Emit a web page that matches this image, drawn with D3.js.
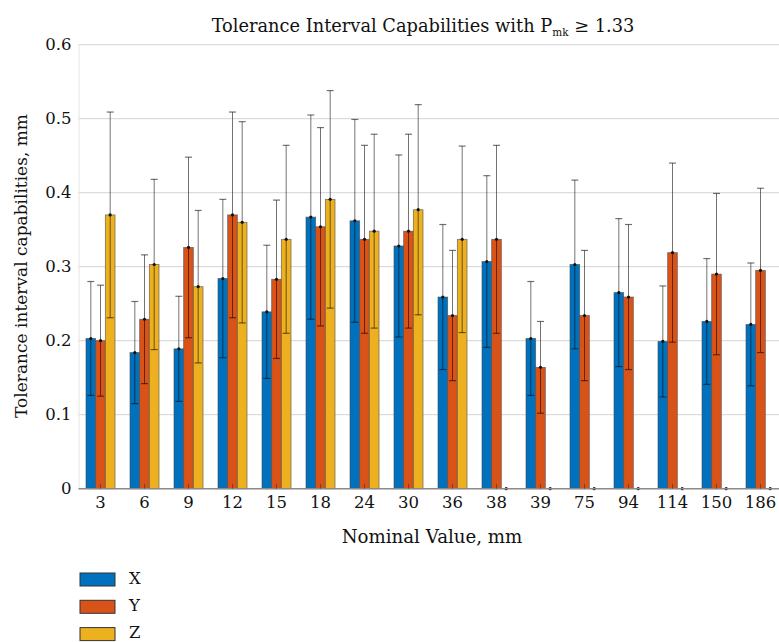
<!DOCTYPE html>
<html>
<head>
<meta charset="utf-8">
<script src="https://cdn.jsdelivr.net/npm/d3@7"></script>
<style>
  html, body { margin: 0; padding: 0; background: #fff; }
  svg { display: block; }
  svg text { font-family: "DejaVu Serif", "Liberation Serif", serif; fill: #111; }
</style>
</head>
<body>
<svg id="chart" width="779" height="642"></svg>
<script>
// Nominal sizes (mm) on the category axis
const categories = ["3", "6", "9", "12", "15", "18", "24", "30", "36", "38", "39", "75", "94", "114", "150", "186"];
const seriesNames = ["X", "Y", "Z"];

// Tolerance interval capability per axis (mm)
const valuesX = [0.203, 0.184, 0.189, 0.284, 0.239, 0.367, 0.362, 0.328, 0.259, 0.307, 0.203, 0.303, 0.265, 0.199, 0.226, 0.222];
const valuesY = [0.200, 0.229, 0.326, 0.370, 0.283, 0.354, 0.337, 0.348, 0.234, 0.337, 0.164, 0.234, 0.259, 0.319, 0.290, 0.295];
const valuesZ = [0.370, 0.303, 0.273, 0.360, 0.337, 0.391, 0.348, 0.377, 0.337, 0, 0, 0, 0, 0, 0, 0];

// Half-width of the error bar for each value (mm)
const errorX = [0.077, 0.069, 0.071, 0.107, 0.090, 0.138, 0.137, 0.123, 0.098, 0.116, 0.077, 0.114, 0.100, 0.075, 0.085, 0.083];
const errorY = [0.075, 0.087, 0.122, 0.139, 0.107, 0.134, 0.127, 0.131, 0.088, 0.127, 0.062, 0.088, 0.098, 0.121, 0.109, 0.111];
const errorZ = [0.139, 0.115, 0.103, 0.136, 0.127, 0.147, 0.131, 0.142, 0.126, 0, 0, 0, 0, 0, 0, 0];

const yTicks = [0, 0.1, 0.2, 0.3, 0.4, 0.5, 0.6];
const colors = ["#0072BD", "#D95319", "#EDB120"];

const values = [valuesX, valuesY, valuesZ];
const errors = [errorX, errorY, errorZ];

const svg = d3.select("#chart");
const plot = { left: 78.5, top: 44.7, bottom: 488.7 };
const step = 44;

const x = d3.scaleBand()
  .domain(categories)
  .range([plot.left, plot.left + step * categories.length])
  .paddingInner(0.34)
  .paddingOuter(0.17);

const xSub = d3.scaleBand()
  .domain(seriesNames)
  .range([0, x.bandwidth()]);

const y = d3.scaleLinear().domain([0, 0.6]).range([plot.bottom, plot.top]);

// Grid lines
const gridRight = 779;
svg.append("g")
  .selectAll("line")
  .data(yTicks.filter(d => d > 0))
  .join("line")
  .attr("x1", plot.left).attr("x2", gridRight)
  .attr("y1", d => y(d)).attr("y2", d => y(d))
  .attr("stroke", "#d4d4d4").attr("stroke-width", 1);

// Y axis
const yAxis = svg.append("g")
  .attr("transform", `translate(${plot.left},0)`)
  .call(d3.axisLeft(y).tickValues(yTicks).tickFormat(d => d === 0 ? "0" : d3.format(".1f")(d)).tickSize(0).tickPadding(7));
yAxis.attr("font-family", null);
yAxis.select(".domain").attr("stroke", "#e6e6e6");
yAxis.selectAll("text").attr("font-size", 16.5);

// Bars
const rows = categories.map((c, i) => ({ c, i }));
const groups = svg.append("g")
  .selectAll("g")
  .data(rows)
  .join("g")
  .attr("transform", d => `translate(${x(d.c)},0)`);

groups.selectAll("rect")
  .data(d => seriesNames.map((s, k) => ({ s, k, v: values[k][d.i], e: errors[k][d.i] })))
  .join("rect")
  .attr("x", d => xSub(d.s))
  .attr("width", xSub.bandwidth())
  .attr("y", d => y(d.v))
  .attr("height", d => y(0) - y(d.v))
  .attr("fill", d => colors[d.k])
  .attr("stroke", "#4a4a4a")
  .attr("stroke-opacity", 0.7)
  .attr("stroke-width", 0.8);

// X axis baseline and ticks
svg.append("line")
  .attr("x1", plot.left).attr("x2", gridRight)
  .attr("y1", y(0)).attr("y2", y(0))
  .attr("stroke", "#8a8a8a").attr("stroke-width", 1.4);

svg.append("g")
  .selectAll("line")
  .data(categories)
  .join("line")
  .attr("x1", d => x(d) + x.bandwidth() / 2).attr("x2", d => x(d) + x.bandwidth() / 2)
  .attr("y1", y(0)).attr("y2", y(0) - 5)
  .attr("stroke", "#333").attr("stroke-opacity", 0.6);

const xAxis = svg.append("g")
  .attr("transform", `translate(0,${plot.bottom})`)
  .call(d3.axisBottom(x).tickSize(0).tickPadding(8));
xAxis.attr("font-family", null);
xAxis.select(".domain").remove();
xAxis.selectAll("text").attr("font-size", 16.5);

// Error bars
const eb = groups.selectAll("g.err")
  .data(d => seriesNames.map((s, k) => ({ s, k, v: values[k][d.i], e: errors[k][d.i] })))
  .join("g")
  .attr("class", "err")
  .attr("transform", d => `translate(${xSub(d.s) + xSub.bandwidth() / 2},0)`);

const cap = 3.5;
const errStroke = "rgba(0,0,0,0.55)";
eb.filter(d => d.e > 0).append("line")
  .attr("x1", 0).attr("x2", 0)
  .attr("y1", d => y(d.v - d.e)).attr("y2", d => y(d.v + d.e))
  .attr("stroke", errStroke).attr("stroke-width", 1);
eb.filter(d => d.e > 0).append("line")
  .attr("x1", -cap).attr("x2", cap)
  .attr("y1", d => y(d.v + d.e)).attr("y2", d => y(d.v + d.e))
  .attr("stroke", errStroke).attr("stroke-width", 1.2);
eb.filter(d => d.e > 0).append("line")
  .attr("x1", -cap).attr("x2", cap)
  .attr("y1", d => y(d.v - d.e)).attr("y2", d => y(d.v - d.e))
  .attr("stroke", errStroke).attr("stroke-width", 1.2);
eb.append("circle")
  .attr("cx", 0).attr("cy", d => y(d.v))
  .attr("r", 1.6).attr("fill", "#111");

// Title with subscript
const title = svg.append("text")
  .attr("x", 423).attr("y", 31.5)
  .attr("text-anchor", "middle")
  .attr("font-size", 17.8);
title.append("tspan").text("Tolerance Interval Capabilities with P");
title.append("tspan").attr("font-size", 10.5).attr("dy", 4).text("mk");
title.append("tspan").attr("dy", -4).text(" \u2265 1.33");

// Axis titles
svg.append("text")
  .attr("x", 432).attr("y", 543)
  .attr("text-anchor", "middle")
  .attr("font-size", 18.2)
  .text("Nominal Value, mm");

svg.append("text")
  .attr("transform", "translate(27,266) rotate(-90)")
  .attr("text-anchor", "middle")
  .attr("font-size", 17)
  .text("Tolerance interval capabilities, mm");

// Legend
const legend = svg.append("g")
  .selectAll("g")
  .data(seriesNames)
  .join("g")
  .attr("transform", (d, i) => `translate(80,${573 + i * 27.3})`);
legend.append("rect")
  .attr("width", 35).attr("height", 13)
  .attr("fill", (d, i) => colors[i])
  .attr("stroke", "#333").attr("stroke-width", 1);
legend.append("text")
  .attr("x", 49).attr("y", 10.5)
  .attr("font-size", 16.5)
  .text(d => d);
</script>
</body>
</html>
